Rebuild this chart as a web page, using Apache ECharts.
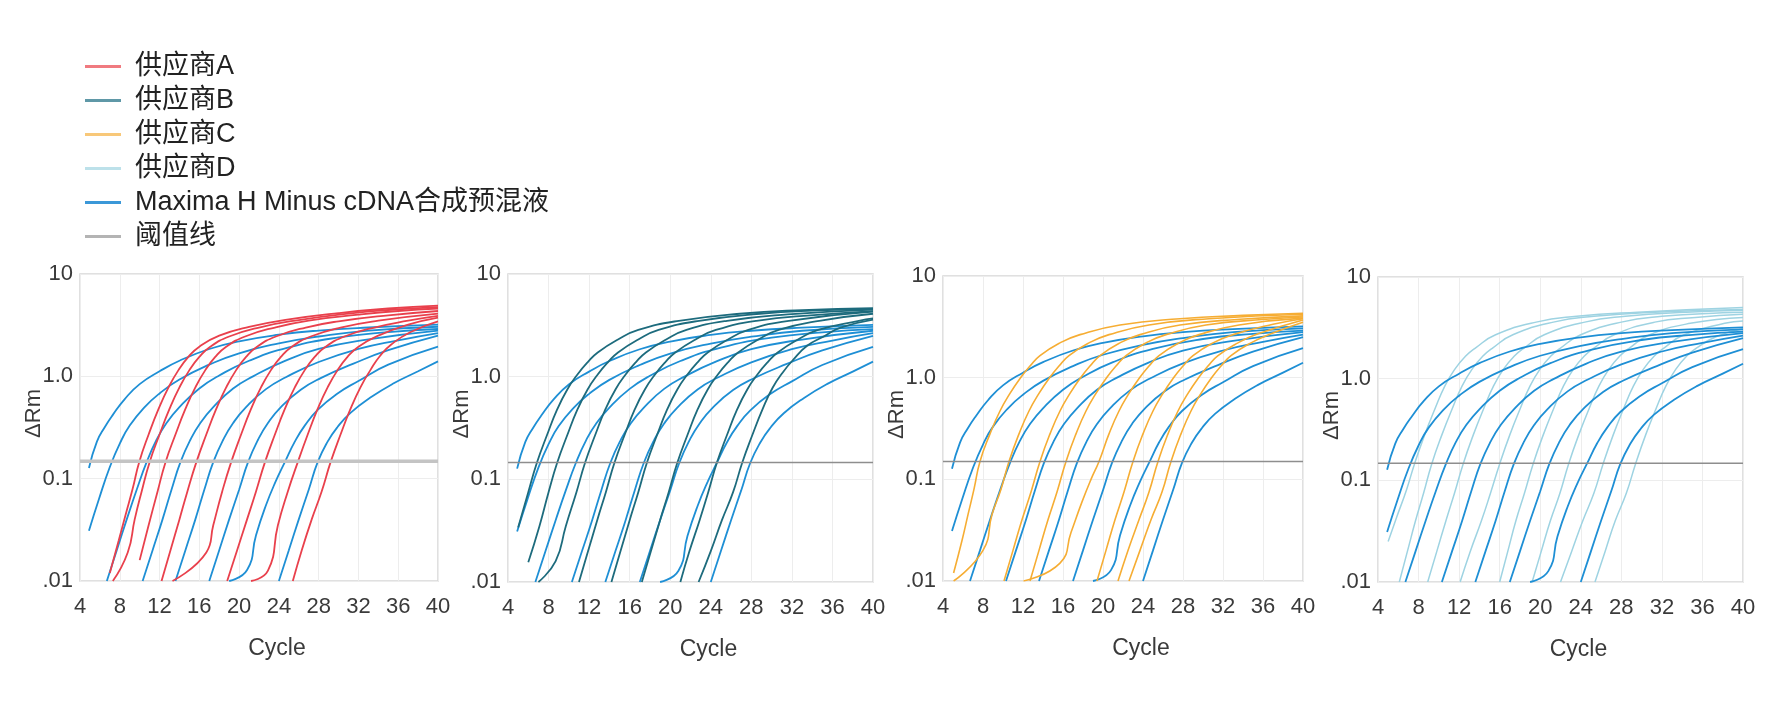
<!DOCTYPE html>
<html>
<head>
<meta charset="utf-8">
<title>qPCR amplification curves</title>
<script src="https://cdn.jsdelivr.net/npm/echarts@6/dist/echarts.min.js"></script>
<style>
  html, body { margin: 0; padding: 0; background: #fff; }
  #chart { width: 1773px; height: 726px; }
</style>
</head>
<body>
<div id="chart"></div>
<script>
// ---- data (cycle, ΔRm) ----
const legendNames = ['供应商A', '供应商B', '供应商C', '供应商D', 'Maxima H Minus cDNA合成预混液', '阈值线'];
const rmTickLabels = { '-2': '.01', '-1': '0.1', '0': '1.0', '1': '10' };

// Maxima H Minus curves, same run shown in every panel
const maximaCurves = [
  [[4.9,0.127],[5.7,0.23],[6.5,0.32],[7.3,0.42],[8.5,0.6],[10,0.84],[12,1.12],[14,1.42],[17,1.85],[20,2.2],[24,2.55],[28,2.8],[33,3.0],[40,3.2]],
  [[4.9,0.031],[5.9,0.063],[7.0,0.13],[8,0.22],[9,0.33],[10.5,0.5],[12,0.68],[14,0.93],[17,1.3],[20,1.68],[24,2.1],[28,2.45],[33,2.8],[40,3.05]],
  [[6.7,0.01],[7.7,0.02],[8.7,0.04],[9.7,0.078],[10.7,0.145],[11.7,0.24],[12.7,0.35],[14,0.5],[16,0.76],[18,1.02],[21,1.42],[25,1.92],[30,2.4],[35,2.7],[40,2.9]],
  [[10.3,0.01],[11.3,0.02],[12.3,0.04],[13.2,0.078],[14.1,0.145],[15.1,0.24],[16.1,0.35],[17.4,0.5],[19.4,0.76],[21.4,1.0],[24.5,1.4],[28,1.85],[33,2.3],[40,2.8]],
  [[13.6,0.01],[14.6,0.02],[15.6,0.04],[16.5,0.078],[17.4,0.145],[18.4,0.24],[19.4,0.35],[20.7,0.5],[22.7,0.75],[24.7,0.98],[28,1.38],[32,1.85],[36,2.25],[40,2.65]],
  [[17.0,0.01],[18.0,0.02],[19.0,0.04],[20.0,0.078],[20.9,0.145],[21.9,0.24],[22.9,0.35],[24.2,0.5],[26.2,0.74],[28.2,0.96],[31.5,1.33],[35,1.8],[40,2.5]],
  [[19.0,0.01],[20.8,0.0128],[21.7,0.028],[22.7,0.055],[23.7,0.095],[24.6,0.145],[25.6,0.23],[26.6,0.33],[27.9,0.47],[29.9,0.68],[32,0.9],[35,1.3],[40,1.95]],
  [[24.0,0.01],[25.0,0.02],[26.0,0.04],[27.0,0.078],[27.9,0.145],[28.9,0.23],[29.9,0.32],[31.2,0.44],[33.2,0.62],[35.5,0.85],[38,1.12],[40,1.4]]
];

const supplierA = [
  [[7.0,0.012],[7.9,0.025],[8.6,0.045],[9.3,0.08],[9.95,0.145],[10.9,0.27],[11.9,0.48],[12.9,0.78],[13.9,1.15],[14.9,1.55],[16,1.95],[18,2.5],[21,3.05],[25,3.6],[30,4.15],[35,4.6],[40,4.9]],
  [[7.3,0.01],[8.8,0.019],[9.5,0.04],[10.2,0.075],[11.0,0.145],[12,0.27],[13,0.48],[14,0.78],[15,1.15],[16,1.55],[17.1,1.95],[19,2.45],[22,3.0],[26,3.55],[31,4.1],[35,4.45],[40,4.75]],
  [[10.0,0.016],[10.9,0.035],[11.8,0.075],[12.6,0.145],[13.6,0.27],[14.6,0.48],[15.6,0.78],[16.6,1.15],[17.6,1.55],[18.7,1.95],[20.6,2.45],[23.6,3.0],[27,3.5],[32,4.0],[36,4.35],[40,4.6]],
  [[12.2,0.01],[13.1,0.02],[14,0.04],[14.8,0.075],[15.7,0.145],[16.7,0.27],[17.7,0.48],[18.7,0.78],[19.7,1.15],[20.7,1.55],[21.8,1.95],[23.7,2.45],[26.7,3.0],[30,3.45],[35,3.95],[40,4.35]],
  [[13.3,0.01],[16.7,0.019],[17.4,0.035],[18.3,0.075],[19.2,0.145],[20.2,0.27],[21.2,0.48],[22.2,0.78],[23.2,1.15],[24.2,1.55],[25.3,1.95],[27.2,2.45],[30.2,3.0],[34,3.5],[40,4.1]],
  [[18.8,0.01],[19.8,0.02],[20.8,0.04],[21.7,0.075],[22.6,0.145],[23.6,0.27],[24.6,0.48],[25.6,0.78],[26.6,1.15],[27.6,1.55],[28.7,1.95],[30.6,2.45],[33.6,3.0],[37,3.5],[40,3.9]],
  [[21.2,0.01],[22.9,0.0126],[23.9,0.035],[24.9,0.075],[25.9,0.145],[26.9,0.27],[27.9,0.48],[28.9,0.78],[29.9,1.15],[30.9,1.55],[32,1.95],[34,2.5],[37,3.2],[40,3.75]],
  [[25.4,0.01],[26.3,0.02],[27.3,0.04],[28.3,0.075],[29.2,0.145],[30.2,0.27],[31.2,0.48],[32.2,0.78],[33.2,1.15],[34.2,1.6],[35.3,2.05],[37.2,2.7],[40,3.45]]
];

const supplierB = [
  [[5.0,0.034],[6.0,0.075],[6.85,0.145],[7.85,0.27],[8.85,0.48],[9.85,0.75],[10.85,1.05],[11.85,1.38],[12.85,1.72],[14.85,2.3],[16.85,2.85],[20.85,3.5],[26.85,4.1],[33,4.45],[40,4.65]],
  [[6.0,0.0156],[7.1,0.035],[8.0,0.075],[8.85,0.145],[9.85,0.27],[10.85,0.48],[11.85,0.75],[12.85,1.05],[13.85,1.38],[14.85,1.72],[16.85,2.3],[18.85,2.85],[22.85,3.5],[28.85,4.1],[34,4.4],[40,4.55]],
  [[7.0,0.01],[8.7,0.016],[9.7,0.035],[10.75,0.075],[11.6,0.145],[12.6,0.27],[13.6,0.48],[14.6,0.75],[15.6,1.05],[16.6,1.38],[17.6,1.72],[19.6,2.3],[21.6,2.85],[25.6,3.5],[31.6,4.05],[40,4.5]],
  [[11.0,0.01],[11.9,0.02],[12.8,0.04],[13.65,0.075],[14.5,0.145],[15.5,0.27],[16.5,0.48],[17.5,0.75],[18.5,1.05],[19.5,1.38],[20.5,1.72],[22.5,2.3],[24.5,2.85],[28.5,3.5],[34.5,4.0],[40,4.35]],
  [[14.2,0.01],[15.1,0.02],[16.0,0.04],[16.85,0.075],[17.7,0.145],[18.7,0.27],[19.7,0.48],[20.7,0.75],[21.7,1.05],[22.7,1.38],[23.7,1.72],[25.7,2.3],[27.7,2.85],[31.7,3.5],[40,4.3]],
  [[17.2,0.01],[18.1,0.02],[19.0,0.04],[19.85,0.075],[20.7,0.145],[21.7,0.27],[22.7,0.48],[23.7,0.75],[24.7,1.05],[25.7,1.38],[26.7,1.72],[28.7,2.3],[30.7,2.85],[34.7,3.5],[40,4.1]],
  [[21.0,0.01],[21.9,0.02],[22.9,0.04],[23.75,0.075],[24.6,0.145],[25.6,0.27],[26.6,0.48],[27.6,0.75],[28.6,1.05],[29.6,1.38],[30.6,1.72],[32.6,2.3],[34.6,2.85],[38.6,3.5],[40,3.7]],
  [[22.8,0.01],[24.0,0.02],[25.1,0.04],[26.2,0.075],[27.1,0.145],[28.1,0.27],[29.1,0.48],[30.1,0.78],[31.1,1.1],[32.1,1.45],[33.5,2.0],[35.1,2.45],[36.8,3.0],[40,3.6]]
];

const supplierC = [
  [[5.06,0.012],[5.9,0.025],[6.5,0.045],[7.1,0.08],[7.7,0.15],[8.7,0.28],[9.7,0.47],[10.7,0.7],[11.7,0.98],[12.7,1.3],[13.7,1.65],[15.7,2.2],[17.7,2.65],[21.7,3.3],[27.7,3.8],[34,4.1],[40,4.3]],
  [[5.06,0.01],[8.0,0.02],[8.9,0.045],[9.8,0.08],[10.6,0.15],[11.6,0.28],[12.6,0.47],[13.6,0.7],[14.6,0.98],[15.6,1.3],[16.6,1.65],[18.6,2.2],[20.6,2.65],[24.6,3.3],[30.6,3.8],[40,4.2]],
  [[10.1,0.01],[11.0,0.02],[11.9,0.04],[12.8,0.075],[13.7,0.15],[14.7,0.28],[15.7,0.47],[16.7,0.7],[17.7,0.98],[18.7,1.3],[19.7,1.65],[21.7,2.2],[23.7,2.65],[27.7,3.3],[33.7,3.75],[40,4.05]],
  [[12.7,0.01],[13.6,0.02],[14.5,0.04],[15.4,0.075],[16.3,0.15],[17.3,0.28],[18.3,0.47],[19.3,0.7],[20.3,0.98],[21.3,1.3],[22.3,1.65],[24.3,2.2],[26.3,2.65],[30.3,3.3],[36.3,3.75],[40,3.95]],
  [[12.05,0.01],[15.7,0.015],[16.8,0.03],[17.9,0.06],[18.8,0.1],[19.6,0.15],[20.6,0.28],[21.6,0.47],[22.6,0.7],[23.6,0.98],[24.6,1.3],[25.6,1.65],[27.6,2.2],[29.6,2.65],[33.6,3.3],[40,3.85]],
  [[19.4,0.01],[20.3,0.02],[21.2,0.04],[22.1,0.075],[23.0,0.15],[24,0.28],[25,0.47],[26,0.7],[27,0.98],[28,1.3],[29,1.65],[31,2.2],[33,2.65],[37,3.35],[40,3.8]],
  [[21.5,0.01],[22.5,0.02],[23.6,0.04],[24.6,0.075],[25.5,0.15],[26.5,0.28],[27.5,0.47],[28.5,0.7],[29.5,0.98],[30.5,1.3],[31.5,1.65],[33.5,2.2],[35.5,2.7],[40,3.7]],
  [[22.6,0.01],[23.7,0.02],[24.8,0.04],[25.9,0.075],[26.8,0.15],[27.8,0.28],[28.8,0.47],[29.8,0.7],[30.8,0.98],[31.8,1.3],[32.8,1.65],[34.8,2.2],[36.8,2.7],[40,3.5]]
];

const supplierD = [
  [[5.0,0.025],[5.9,0.045],[6.8,0.08],[7.6,0.145],[8.6,0.28],[9.6,0.5],[10.6,0.85],[11.6,1.25],[12.6,1.65],[13.6,2.0],[15.6,2.7],[19.6,3.6],[23.6,4.1],[29.6,4.5],[40,5.0]],
  [[6.1,0.01],[6.9,0.02],[7.7,0.04],[8.5,0.075],[9.3,0.145],[10.3,0.28],[11.3,0.5],[12.3,0.85],[13.3,1.25],[14.3,1.65],[15.3,2.0],[17.3,2.7],[21.3,3.6],[25.3,4.1],[31.3,4.5],[40,4.8]],
  [[8.9,0.01],[9.8,0.02],[10.7,0.04],[11.55,0.075],[12.4,0.145],[13.4,0.28],[14.4,0.5],[15.4,0.85],[16.4,1.25],[17.4,1.65],[18.4,2.0],[20.4,2.7],[24.4,3.6],[28.4,4.1],[34.4,4.5],[40,4.7]],
  [[12.1,0.01],[13.1,0.02],[14.2,0.04],[15.1,0.075],[16.0,0.145],[17,0.28],[18,0.5],[19,0.85],[20,1.25],[21,1.65],[22,2.0],[24,2.7],[28,3.6],[32,4.1],[38,4.45],[40,4.5]],
  [[16.0,0.01],[16.8,0.02],[17.6,0.04],[18.45,0.075],[19.3,0.145],[20.3,0.28],[21.3,0.5],[22.3,0.85],[23.3,1.25],[24.3,1.65],[25.3,2.0],[27.3,2.7],[31.3,3.6],[35.3,4.0],[40,4.3]],
  [[19.2,0.01],[20.1,0.02],[21.0,0.04],[21.95,0.075],[22.8,0.145],[23.8,0.28],[24.8,0.5],[25.8,0.85],[26.8,1.25],[27.8,1.65],[28.8,2.0],[30.8,2.7],[34.8,3.5],[40,4.0]],
  [[22.0,0.01],[23.1,0.02],[24.2,0.04],[25.3,0.075],[26.2,0.145],[27.2,0.28],[28.2,0.5],[29.2,0.85],[30.2,1.25],[31.2,1.65],[32.2,2.0],[34.2,2.7],[38.2,3.5],[40,3.7]],
  [[25.4,0.01],[26.4,0.02],[27.4,0.04],[28.5,0.075],[29.4,0.145],[30.4,0.28],[31.4,0.5],[32.4,0.85],[33.4,1.25],[34.4,1.65],[35.4,2.0],[37.4,2.6],[40,3.1]]
];

// threshold ΔRm of each panel
const thresholds = [0.148, 0.146, 0.15, 0.147];

// ---- layout / styles ----
const panels = [
  { left: 80, top: 274, width: 358, height: 307, curves: supplierA, name: '供应商A', color: '#e9404c', width_: 1.8, onTop: true,
    thColor: '#c4c4c4', thWidth: 3.5 },
  { left: 508, top: 274, width: 365, height: 308, curves: supplierB, name: '供应商B', color: '#1d6b7d', width_: 1.8, onTop: true,
    thColor: '#8e8e8e', thWidth: 1.6 },
  { left: 943, top: 276, width: 360, height: 305, curves: supplierC, name: '供应商C', color: '#f6ad33', width_: 1.6, onTop: true,
    thColor: '#8e8e8e', thWidth: 1.6 },
  { left: 1378, top: 277, width: 365, height: 305, curves: supplierD, name: '供应商D', color: '#9ed3e2', width_: 1.5, onTop: false,
    thColor: '#8e8e8e', thWidth: 1.6 }
];
const maximaColor = '#1e8fd5';
// legend swatches look paler than the curves in the original
const legendColors = ['#f07a80', '#5f98a7', '#f8c879', '#bde1ea', '#3b98d8', '#b4b4b4'];
const textColor = '#3a3a3a';
const fontFamily = '"Liberation Sans", "Noto Sans CJK SC", sans-serif';

const chart = echarts.init(document.getElementById('chart'));

const grids = [], xAxes = [], yAxes = [], series = [];

function curveSeries(name, data, idx, color, width, smooth) {
  return {
    name: name,
    type: 'line',
    xAxisIndex: idx,
    yAxisIndex: idx,
    data: data,
    showSymbol: false,
    symbol: 'none',
    smooth: smooth,
    silent: true,
    color: color,
    lineStyle: { color: color, width: width },
    emphasis: { disabled: true }
  };
}

panels.forEach((p, i) => {
  grids.push({
    left: p.left, top: p.top, width: p.width, height: p.height,
    show: true, borderColor: '#d6d6d6', borderWidth: 1.5, backgroundColor: '#fff'
  });
  xAxes.push({
    type: 'value', gridIndex: i, min: 4, max: 40, interval: 4,
    name: 'Cycle', nameLocation: 'middle', nameGap: 56, nameMoveOverlap: false,
    nameTextStyle: { fontSize: 23, color: textColor, fontFamily: fontFamily, padding: [0, 0, 0, 36] },
    axisLine: { show: false }, axisTick: { show: false },
    axisLabel: { fontSize: 22, color: textColor, fontFamily: fontFamily, margin: 15 },
    splitLine: { show: true, lineStyle: { color: '#ededed', width: 1 } }
  });
  yAxes.push({
    type: 'log', logBase: 10, gridIndex: i, min: 0.01, max: 10,
    name: 'ΔRm', nameLocation: 'middle', nameGap: 35, nameRotate: 90, nameMoveOverlap: false,
    nameTextStyle: { fontSize: 22, color: textColor, fontFamily: fontFamily, padding: [0, 0, 0, 28] },
    axisLine: { show: false }, axisTick: { show: false },
    axisLabel: {
      fontSize: 22, color: textColor, fontFamily: fontFamily, margin: 7,
      formatter: v => rmTickLabels[String(Math.round(Math.log10(v)))]
    },
    splitLine: { show: true, lineStyle: { color: '#ededed', width: 1 } }
  });

  const own = p.curves.map(c => curveSeries(p.name, c, i, p.color, p.width_, 0.5));
  const maxima = maximaCurves.map(c => curveSeries(legendNames[4], c, i, maximaColor, 1.8, 0.5));
  if (p.onTop) series.push(...maxima, ...own);
  else series.push(...own, ...maxima);

  series.push(curveSeries(legendNames[5], [[4, thresholds[i]], [40, thresholds[i]]], i, p.thColor, p.thWidth, false));
});

chart.setOption({
  backgroundColor: '#fff',
  animation: false,
  legend: {
    data: legendNames.map((n, k) => ({ name: n, itemStyle: { color: legendColors[k] } })),
    orient: 'vertical',
    left: 80, top: 48,
    icon: 'rect',
    itemWidth: 36, itemHeight: 3,
    itemGap: 7,
    selectedMode: false,
    textStyle: { fontSize: 27, lineHeight: 27, color: '#222', fontFamily: fontFamily, padding: [0, 0, 0, 9] }
  },
  grid: grids,
  xAxis: xAxes,
  yAxis: yAxes,
  series: series
});
</script>
</body>
</html>
